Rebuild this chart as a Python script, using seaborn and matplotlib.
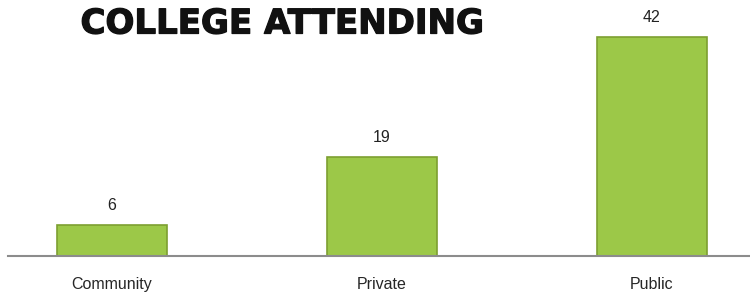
import matplotlib
matplotlib.use("Agg")
import pandas as pd
import seaborn as sns
import matplotlib.pyplot as plt
import matplotlib.patheffects as pe

# data
categories = ["Community", "Private", "Public"]
counts = [6, 19, 42]

df = pd.DataFrame({"type": categories, "count": counts})

sns.set_style("white")
plt.rcParams["font.family"] = ["Liberation Sans", "DejaVu Sans"]

fig = plt.figure(figsize=(7.5, 2.96), dpi=100)
ax = fig.add_axes([8 / 750, 40 / 296, 742 / 750, (256 - 21.5) / 296])

sns.barplot(data=df, x="type", y="count", color="#9cc848",
            saturation=1, width=0.407, edgecolor="#7d9f31", linewidth=1.2, ax=ax)

# value labels
for i, v in enumerate(counts):
    ax.text(i, v + 2.3, str(v), ha="center", va="bottom", fontsize=11.5, color="#222222")

ax.set_xlim(-0.385, 2.363)
ax.set_ylim(0, 45)
ax.set_yticks([])
ax.set_xlabel("")
ax.set_ylabel("")
ax.tick_params(axis="x", length=0, pad=15, labelsize=11.5)
for s in ["top", "left", "right"]:
    ax.spines[s].set_visible(False)
ax.spines["bottom"].set_color("#8c8c8c")
ax.spines["bottom"].set_linewidth(1.5)

title = fig.text(282 / 750, 1 - 24 / 296, "COLLEGE ATTENDING", ha="center", va="center",
                 fontsize=24.5, fontweight="bold", color="#111111", family=["DejaVu Sans"])
title.set_path_effects([pe.withStroke(linewidth=0.9, foreground="#111111")])

fig.savefig("out.png", dpi=100)
